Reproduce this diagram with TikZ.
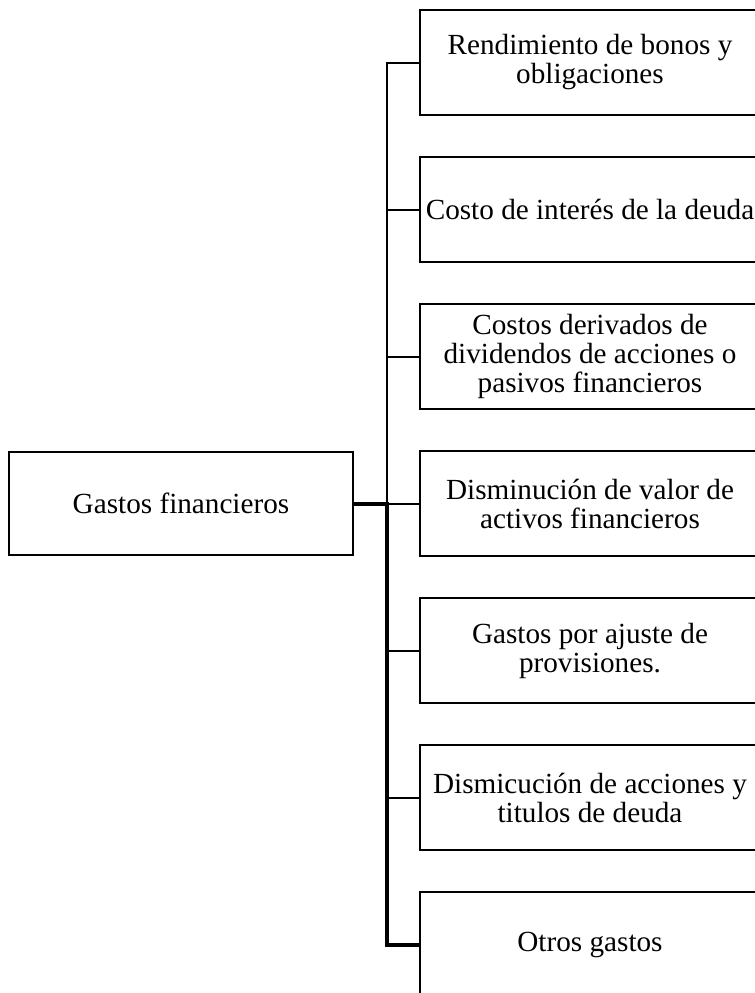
\documentclass[tikz,border=0pt]{standalone}
\usepackage{fontspec}
\setmainfont{Liberation Serif}
\usetikzlibrary{positioning}

\begin{document}
\begin{tikzpicture}[x=0.5pt,y=-0.5pt,
  box/.style={draw, line width=1.2pt, minimum width=170pt, minimum height=52.5pt,
    inner sep=0pt, align=center, font=\fontsize{14.6pt}{14.5pt}\selectfont},
  twig/.style={line width=1pt},
  trunk/.style={line width=2pt},
  node distance=19.8pt]
  \useasboundingbox (0,0) rectangle (755,993);
  \clip (0,0) rectangle (755,993);

  \node[box, minimum width=172pt, minimum height=51.5pt] (gf) at (181,503.5) {Gastos financieros};

  \node[box] (bonos) at (590,62.5) {Rendimiento de bonos y\\obligaciones};
  \node[box, below=of bonos] (deuda) {Costo de interés de la deuda};
  \node[box, below=of deuda] (divid) {Costos derivados de\\dividendos de acciones o\\pasivos financieros};
  \node[box, below=of divid] (activ) {Disminución de valor de\\activos financieros};
  \node[box, below=of activ] (provi) {Gastos por ajuste de\\provisiones.};
  \node[box, below=of provi] (titul) {Dismicución de acciones y\\titulos de deuda};
  \node[box, below=of titul] (otros) {Otros gastos};

  \coordinate (bus) at (387,0);

  % thin part of the bus
  \draw[twig] (bonos.west) -- (bonos.west -| bus) -- (gf.east -| bus);
  \foreach \n in {deuda,divid,activ,provi,titul}
    \draw[twig] (\n.west) -- (\n.west -| bus);

  % thick part
  \draw[trunk] (gf.east) -- (gf.east -| bus) -- (otros.west -| bus) -- (otros.west);
\end{tikzpicture}
\end{document}
